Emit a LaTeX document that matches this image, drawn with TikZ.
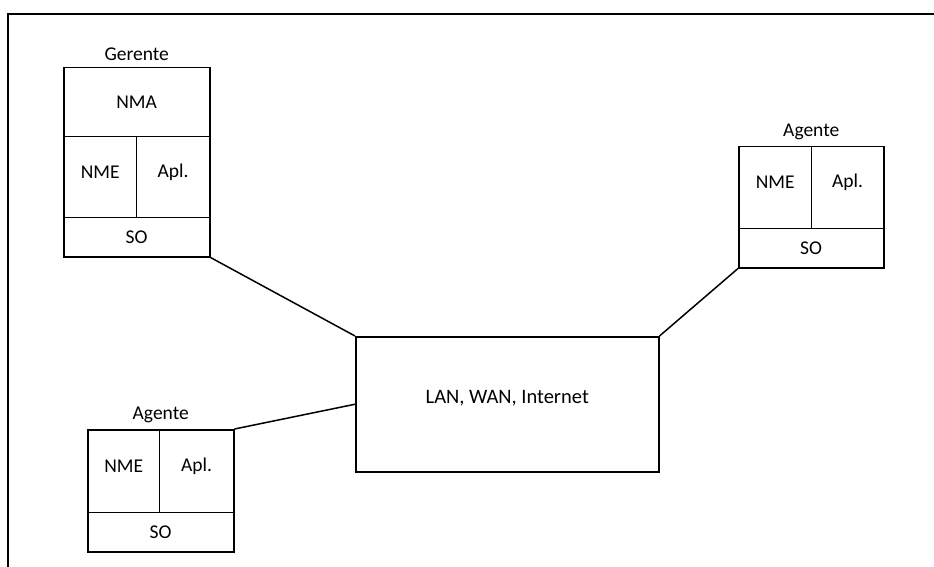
\documentclass[tikz,border=0pt]{standalone}
\usepackage{fontspec}
\setmainfont{Carlito}
\begin{document}
\begin{tikzpicture}[x=1pt,y=-1pt,
  box/.style={draw, line width=1.5pt, rectangle, inner sep=0pt, anchor=north west},
  cell/.style={box, line width=1.3pt},
  lbl/.style={font=\fontsize{19.5}{21}\selectfont, inner sep=0pt},
  link/.style={line width=1.5pt}]
  \useasboundingbox (0,0) rectangle (934,567);
  % page frame (top and left edges only)
  \draw[line width=2pt] (8,567) -- (8,14) -- (934,14);

  % manager station
  \node[box, minimum width=146pt, minimum height=189pt] (ger) at (63,67) {};
  \node[cell, minimum width=146pt, minimum height=69pt, lbl] (gNMA) at (63,67) {NMA};
  \node[cell, minimum width=73pt, minimum height=81pt] (gNME) at (63,136) {};
  \node[cell, minimum width=73pt, minimum height=81pt] (gApl) at (136,136) {};
  \node[cell, minimum width=146pt, minimum height=39pt, lbl] (gSO) at (63,217) {SO};
  \node[lbl] at ([yshift=5pt]gNME.center) {NME};
  \node[lbl] at ([yshift=5pt]gApl.center) {Apl.};
  \node[lbl, anchor=south] (gT) at ([yshift=6pt]ger.north) {Gerente};

  % agent on the right
  \node[box, minimum width=145pt, minimum height=121pt] (ag1) at (738,146) {};
  \node[cell, minimum width=73pt, minimum height=82pt] (a1NME) at (738,146) {};
  \node[cell, minimum width=72pt, minimum height=82pt] (a1Apl) at (811,146) {};
  \node[cell, minimum width=145pt, minimum height=39pt, lbl] (a1SO) at (738,228) {SO};
  \node[lbl] at ([yshift=5pt]a1NME.center) {NME};
  \node[lbl] at ([yshift=5pt]a1Apl.center) {Apl.};
  \node[lbl, anchor=south] (a1T) at ([yshift=6pt]ag1.north) {Agente};

  % agent at the bottom left
  \node[box, minimum width=146pt, minimum height=122pt] (ag2) at (87,429) {};
  \node[cell, minimum width=72pt, minimum height=83pt] (a2NME) at (87,429) {};
  \node[cell, minimum width=74pt, minimum height=83pt] (a2Apl) at (159,429) {};
  \node[cell, minimum width=146pt, minimum height=39pt, lbl] (a2SO) at (87,512) {SO};
  \node[lbl] at ([yshift=5pt]a2NME.center) {NME};
  \node[lbl] at ([yshift=5pt]a2Apl.center) {Apl.};
  \node[lbl, anchor=south] (a2T) at ([yshift=6pt]ag2.north) {Agente};

  % network
  \node[box, minimum width=303pt, minimum height=135pt] (lan) at (355,336) {};
  \node[font=\fontsize{20.5}{22}\selectfont, inner sep=0pt] (lanT) at ([yshift=6pt]lan.center) {LAN, WAN, Internet};

  % links
  \draw[link] (ger.south east) -- (lan.north west);
  \draw[link] (ag1.south west) -- (lan.north east);
  \draw[link] (ag2.north east) -- (lan.west);
\end{tikzpicture}
\end{document}
